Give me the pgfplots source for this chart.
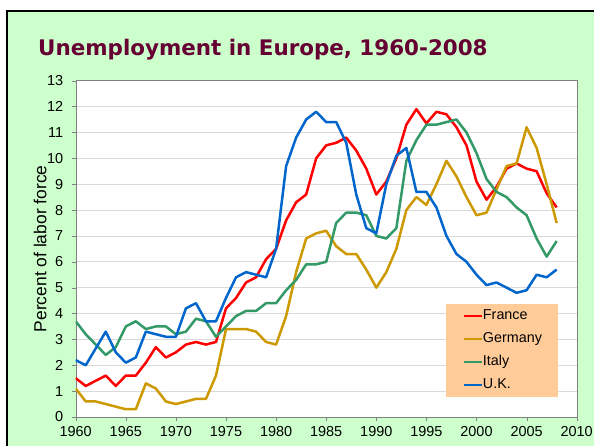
\documentclass[border=0pt]{standalone}
\usepackage{pgfplots}
\pgfplotsset{compat=1.18}
\usepackage{pgfplotstable}
\usepackage{fontspec}
\setmainfont{Liberation Sans}
\newfontfamily\titlefont{DejaVu Sans}

\definecolor{bggreen}{RGB}{204,255,204}
\definecolor{titlecol}{RGB}{102,0,51}
\definecolor{frred}{RGB}{255,0,0}
\definecolor{degold}{RGB}{204,153,0}
\definecolor{itgreen}{RGB}{51,153,102}
\definecolor{ukblue}{RGB}{0,102,204}
\definecolor{legfill}{RGB}{255,204,153}

% unemployment rate, percent of labor force
\pgfplotstableread{
year fr   de   it   uk
1960 1.5  1.1  3.7  2.2
1961 1.2  0.6  3.2  2.0
1962 1.4  0.6  2.8  2.65
1963 1.6  0.5  2.4  3.3
1964 1.2  0.4  2.7  2.5
1965 1.6  0.3  3.5  2.1
1966 1.6  0.3  3.7  2.3
1967 2.1  1.3  3.4  3.3
1968 2.7  1.1  3.5  3.2
1969 2.3  0.6  3.5  3.1
1970 2.5  0.5  3.2  3.1
1971 2.8  0.6  3.3  4.2
1972 2.9  0.7  3.8  4.4
1973 2.8  0.7  3.7  3.7
1974 2.9  1.6  3.1  3.7
1975 4.2  3.4  3.5  4.6
1976 4.6  3.4  3.9  5.4
1977 5.2  3.4  4.1  5.6
1978 5.4  3.3  4.1  5.5
1979 6.1  2.9  4.4  5.4
1980 6.5  2.8  4.4  6.5
1981 7.6  3.9  4.9  9.7
1982 8.3  5.6  5.3  10.8
1983 8.6  6.9  5.9  11.5
1984 10.0 7.1  5.9  11.8
1985 10.5 7.2  6.0  11.4
1986 10.6 6.6  7.5  11.4
1987 10.8 6.3  7.9  10.6
1988 10.3 6.3  7.9  8.6
1989 9.6  5.7  7.8  7.3
1990 8.6  5.0  7.0  7.1
1991 9.1  5.6  6.9  9.0
1992 10.0 6.5  7.3  10.1
1993 11.3 8.0  9.9  10.4
1994 11.9 8.5  10.7 8.7
1995 11.35 8.2 11.3 8.7
1996 11.8 9.0  11.3 8.1
1997 11.7 9.9  11.4 7.0
1998 11.2 9.3  11.5 6.3
1999 10.5 8.5  11.0 6.0
2000 9.1  7.8  10.2 5.5
2001 8.4  7.9  9.2  5.1
2002 8.9  8.8  8.7  5.2
2003 9.6  9.7  8.5  5.0
2004 9.8  9.8  8.1  4.8
2005 9.6  11.2 7.8  4.9
2006 9.5  10.4 6.9  5.5
2007 8.65 9.0  6.2  5.4
2008 8.1  7.5  6.8  5.7
}\unemp

\begin{document}
\begin{tikzpicture}
\useasboundingbox (0,0) rectangle (594bp,446bp);
\fill[white] (0,0) rectangle (594bp,446bp);
\fill[bggreen] (7bp,0) rectangle (594bp,435bp);
\draw[black, line width=2bp] (7bp,0) -- (7bp,435bp) -- (594bp,435bp);
\node[anchor=base west, inner sep=0pt, text=titlecol,
  font=\titlefont\bfseries\fontsize{21.5}{25}\selectfont] at (38bp,390.5bp)
  {Unemployment in Europe, 1960-2008};

\begin{axis}[
  at={(75.7bp,29bp)}, anchor=south west,
  scale only axis, width=501bp, height=336.3bp,
  xmin=1960, xmax=2010, ymin=0, ymax=13,
  xtick distance=5, ytick distance=1,
  xtick pos=lower, ytick pos=left,
  tick align=outside, major tick length=4bp,
  ymajorgrids, grid style={draw=black!15, line width=0.8pt},
  axis line style={draw=black!50},
  tick style={draw=black!50},
  axis background/.style={fill=white},
  tick label style={font=\fontsize{14.5}{16}\selectfont},
  xticklabel style={yshift=-2bp},
  yticklabel style={xshift=-5bp},
  /pgf/number format/1000 sep={},
  /pgf/number format/assume math mode=true,
  ylabel={Percent of labor force},
  every axis y label/.style={at={(axis description cs:-0.071,0.5)},
    rotate=90, anchor=center, font=\fontsize{17.5}{19}\selectfont},
  legend style={at={(axis description cs:0.963,0.059)}, anchor=south east,
    fill=legfill, draw=none, font=\fontsize{14.4}{16}\selectfont,
    inner xsep=16bp, inner ysep=5bp, row sep=9.5bp,
    nodes={inner sep=0pt, text height=10.5bp, text depth=3bp}},
  legend cell align=left,
  legend image code/.code={\draw[#1] (0bp,0bp) -- (18bp,0bp);},
  every axis plot/.append style={line width=2.5bp, line join=round},
]
\addplot[frred] table[x=year, y=fr] {\unemp};
\addlegendentry{France}
\addplot[degold] table[x=year, y=de] {\unemp};
\addlegendentry{Germany}
\addplot[itgreen] table[x=year, y=it] {\unemp};
\addlegendentry{Italy}
\addplot[ukblue] table[x=year, y=uk] {\unemp};
\addlegendentry{U.K.}
\end{axis}
\end{tikzpicture}
\end{document}
